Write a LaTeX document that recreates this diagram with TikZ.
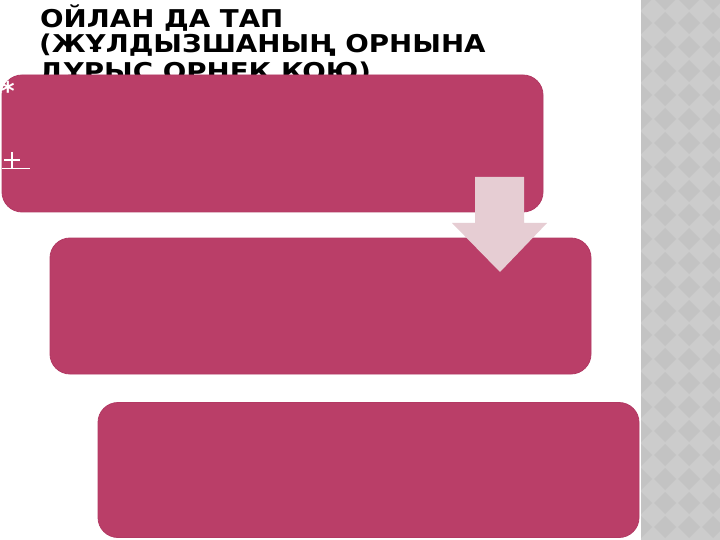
\documentclass[tikz,border=0pt]{standalone}
\usepackage{fontspec}
\setmainfont{DejaVu Sans}
\definecolor{boxred}{RGB}{186,62,104}
\definecolor{boxedge}{RGB}{178,57,99}
\definecolor{arrowpink}{RGB}{230,205,211}
\definecolor{patlight}{RGB}{204,204,204}
\definecolor{patdark}{RGB}{195,195,195}
\newcommand{\wideline}[1]{\scalebox{1.13}[1.0]{#1}}
\begin{document}
\begin{tikzpicture}[x=1pt,y=-1pt,
  stepbox/.style={fill=boxred, draw=boxedge, line width=0.8pt, rounded corners=20pt, inner sep=0pt},
  titleline/.style={anchor=base west, font=\fontsize{24.5}{24.5}\selectfont\bfseries, inner sep=0pt, text=black},
  whitemark/.style={draw=white, line width=1.6pt}
]
\useasboundingbox (0,0) rectangle (720,540);
\fill[white] (0,0) rectangle (720,540);
% right patterned strip
\begin{scope}
  \clip (641,0) rectangle (720,540);
  \fill[patlight] (641,0) rectangle (720,540);
  \foreach \i in {0,...,4}{
    \foreach \j in {0,...,24}{
      \fill[patdark] ({641+24*\i},{24*\j-12}) -- ++(11,11) -- ++(-11,11) -- ++(-11,-11) -- cycle;
    }
  }
\end{scope}
% title
\node[titleline] (t1) at (40,27.5) {\wideline{ОЙЛАН ДА ТАП}};
\node[titleline] (t2) at (39,52.5) {\wideline{(ЖҰЛДЫЗШАНЫҢ ОРНЫНА}};
\node[titleline] (t3) at (39,81) {\wideline{ДҰРЫС ОРНЕК ҚОЮ)}};
% boxes
\node[stepbox, minimum width=541pt, minimum height=137pt] (b1) at (272.5,143.5) {};
\node[stepbox, minimum width=541pt, minimum height=136pt] (b2) at (320.5,306) {};
\node[stepbox, minimum width=541pt, minimum height=135pt] (b3) at (368.5,470) {};
% small white marks
\node[text=white, font=\fontsize{26}{26}\selectfont\bfseries, inner sep=0pt] (ast) at (8,91) {*};
\coordinate (pl) at (4,160);
\coordinate (pr) at (20,160);
\coordinate (pt) at (12,152);
\coordinate (pb) at (12,168);
\coordinate (ul) at (2,168.5);
\coordinate (ur) at (30,168.5);
\draw[whitemark] (pl) -- (pr);
\draw[whitemark] (pt) -- (pb);
\draw[whitemark] (ul) -- (ur);
% arrow
\fill[arrowpink] (475,177) -- (524,177) -- (524,223) -- (547,223) -- (500,272) -- (452,223) -- (475,223) -- cycle;
\end{tikzpicture}
\end{document}
